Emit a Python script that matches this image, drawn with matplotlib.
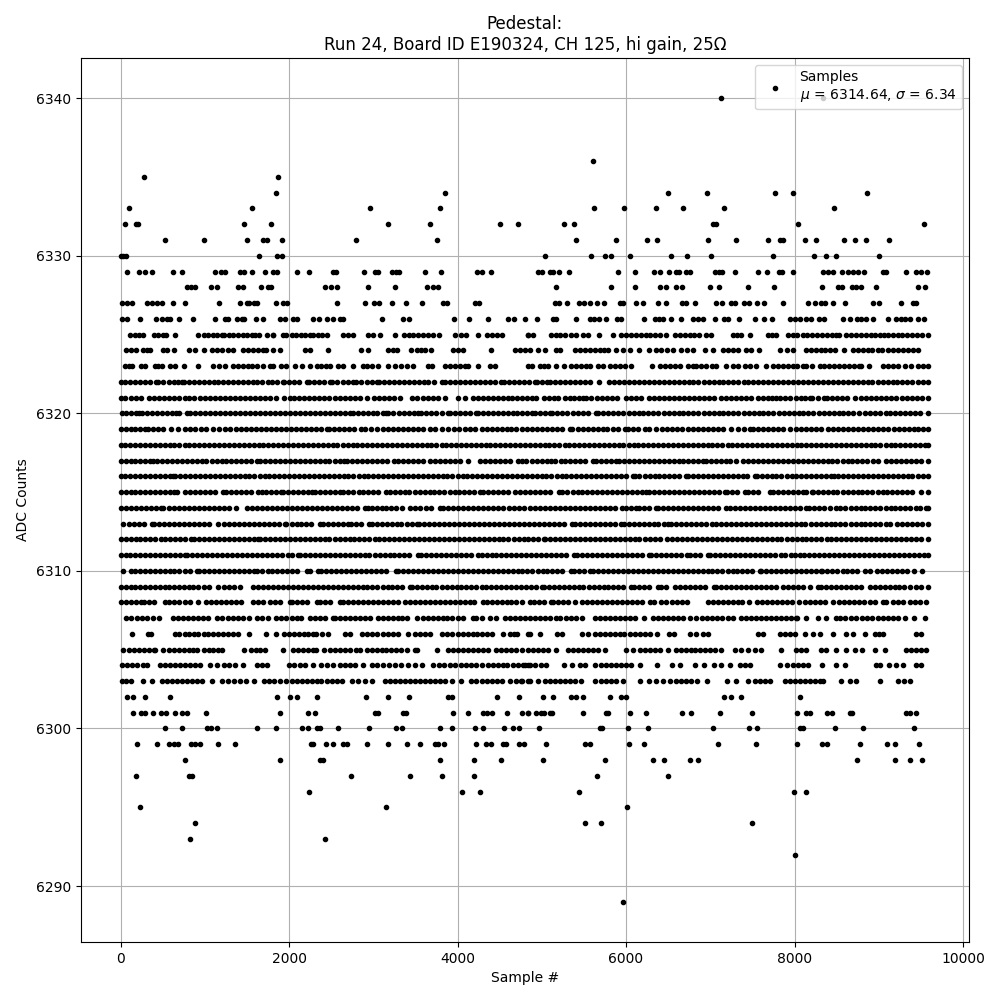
import numpy as np
import matplotlib.pyplot as plt

# sample numbers, one list per ADC level
adc_6340 = [7127, 8337]
adc_6336 = [5609]
adc_6335 = [283, 1872]
adc_6334 = [1849, 3854, 6499, 6961, 7768, 7981, 8859]
adc_6333 = [105, 1564, 2964, 3794, 5621, 5977, 6356, 6676, 7163, 8468]
adc_6332 = [57, 180, 212, 1469, 1789, 3177, 3675, 4506, 4719, 5265, 5384, 7032, 7064, 8041, 9535]
adc_6331 = [532, 994, 1505, 1686, 1734, 1920, 2798, 3760, 5407, 5882, 6249, 6368, 6973, 7305, 7685, 7831, 7863, 8124, 8254, 8586, 8717, 8847, 9120]
adc_6330 = [10, 32, 65, 1647, 1860, 1912, 5040, 5585, 5751, 5822, 6048, 6534, 6724, 7009, 7744, 8230, 8373, 8491, 9001]
adc_6329 = [73, 223, 295, 378, 627, 733, 1125, 1188, 1236, 1418, 1465, 1556, 1718, 1805, 1852, 2090, 2240, 2525, 2557, 2894, 3020, 3060, 3220, 3268, 3300, 3616, 3806, 4233, 4285, 4403,
            4956, 5008, 5095, 5134, 5210, 5324, 5905, 6107, 6332, 6400, 6510, 6597, 6629, 6716, 6756, 7052, 7100, 7143, 7293, 7566, 7673, 7815, 7847, 7981, 8337, 8396, 8456, 8563, 8634, 8693, 8752, 8824, 9049, 9088, 9322, 9436, 9504, 9571]
adc_6328 = [793, 832, 884, 1074, 1141, 1398, 1450, 1671, 1754, 1785, 2430, 2501, 2572, 2940, 3260, 3640, 3711, 3770,
            5170, 5822, 6107, 6400, 6471, 6589, 6665, 6997, 7100, 7447, 7756, 8325, 8515, 8566, 8681, 8733, 8792, 8970, 9464, 9543]
adc_6327 = [14, 73, 140, 310, 370, 429, 488, 619, 769, 1172, 1422, 1497, 1528, 1584, 1615, 1849, 1932, 1971, 2572, 2904, 3011, 3070, 3225, 3391, 3580, 3830, 3870, 4205, 4257,
            5154, 5205, 5300, 5443, 5498, 5573, 5656, 5739, 5925, 5965, 6119, 6206, 6380, 6479, 6665, 6716, 6819, 7072, 7135, 7250, 7289, 7396, 7459, 7550, 7637, 7863, 8159, 8242, 8317, 8357, 8456, 8602, 8930, 9001, 9258, 9405, 9444]
adc_6326 = [12, 73, 227, 417, 488, 547, 587, 698, 856, 1125, 1240, 1279, 1386, 1437, 1469, 1603, 1690, 1892, 1951, 2042, 2090, 2288, 2358, 2445, 2525, 2604, 2643, 3106, 3355, 3426, 3960, 4138, 4364, 4604, 4672, 4799,
            4945, 5134, 5174, 5407, 5569, 5617, 5680, 5767, 5894, 5937, 6214, 6348, 6392, 6439, 6534, 6653, 6795, 6854, 6914, 7056, 7159, 7210, 7345, 7534, 7637, 7732, 7942, 8001, 8068, 8140, 8199, 8290, 8345, 8574, 8653, 8740, 8792, 8851, 8930, 9108, 9207, 9266, 9306, 9374, 9464, 9531]
adc_6325 = [115, 170, 225, 272, 395, 445, 500, 545, 650, 925, 985, 1040, 1095, 1145, 1205, 1225, 1285, 1335, 1395, 1450, 1500, 1560, 1600, 1645, 1735, 1805, 1810, 1925, 1970, 2030, 2085, 2140, 2190, 2250, 2290, 2345, 2395, 2450, 2645, 2700, 2760, 2940, 3000, 3085, 3260, 3360, 3420, 3475, 3530, 3590, 3650, 3710, 3785, 3976, 4045, 4100, 4240, 4355, 4410, 4470, 4530, 4835,
            4838, 4897, 5115, 5170, 5220, 5273, 5352, 5411, 5490, 5550, 5676, 5846, 5945, 6000, 6060, 6115, 6175, 6235, 6290, 6345, 6400, 6479, 6578, 6635, 6695, 6755, 6810, 6870, 6955, 7012, 7269, 7320, 7368, 7467, 7685, 7735, 7783, 7922, 7980, 8035, 8095, 8150, 8210, 8270, 8325, 8385, 8440, 8495, 8527, 8614, 8670, 8730, 8790, 8845, 8905, 8960, 9020, 9068, 9108, 9165, 9225, 9280, 9340, 9400, 9455, 9515, 9583]
adc_6324 = [65, 120, 185, 270, 310, 350, 508, 547, 638, 817, 884, 995, 1090, 1150, 1208, 1279, 1330, 1457, 1515, 1575, 1635, 1695, 1725, 1813, 1892, 2188, 2248, 2465, 2860, 2940, 3177, 3235, 3284, 3442, 3514, 3565, 3612, 3680, 3950, 4010, 4067, 4403, 4680, 4740, 4799,
            4856, 4956, 5035, 5166, 5213, 5391, 5450, 5510, 5570, 5630, 5690, 5740, 5787, 5886, 5965, 6044, 6154, 6273, 6360, 6420, 6490, 6558, 6657, 6725, 6795, 6933, 7032, 7151, 7210, 7269, 7329, 7428, 7487, 7578, 7831, 7905, 7981, 8140, 8195, 8255, 8310, 8365, 8420, 8476, 8582, 8693, 8750, 8810, 8870, 8925, 8985, 9041, 9108, 9165, 9225, 9285, 9345, 9405, 9464]
adc_6323 = [55, 95, 135, 240, 290, 410, 450, 490, 587, 645, 757, 919, 1100, 1170, 1240, 1330, 1390, 1450, 1510, 1565, 1615, 1695, 1773, 1813, 1900, 1965, 2070, 2150, 2255, 2327, 2385, 2440, 2485, 2584, 2635, 2754, 2880, 2930, 2980, 3058, 3177, 3255, 3335, 3405, 3475, 3650, 3700, 3850, 3910, 3970, 4030, 4085, 4127, 4245, 4385, 4450, 4840,
            4890, 4976, 5030, 5075, 5174, 5261, 5352, 5410, 5470, 5525, 5569, 5668, 5727, 5807, 5865, 5925, 5985, 6063, 6309, 6400, 6460, 6520, 6580, 6637, 6736, 6795, 6835, 6895, 6955, 7015, 7072, 7190, 7269, 7329, 7408, 7467, 7538, 7665, 7744, 7800, 7860, 7920, 7980, 8035, 8095, 8140, 8210, 8298, 8355, 8415, 8470, 8530, 8590, 8650, 8705, 8760, 8792, 8879, 9049, 9110, 9170, 9230, 9306, 9385, 9464, 9520, 9580]
adc_6322 = [10, 55, 115, 170, 230, 290, 350, 420, 450, 510, 570, 630, 680, 725, 755, 815, 870, 930, 990, 1045, 1105, 1160, 1220, 1280, 1335, 1395, 1450, 1510, 1570, 1625, 1685, 1745, 1800, 1860, 1925, 1945, 2005, 2065, 2120, 2210, 2240, 2300, 2360, 2420, 2485, 2515, 2575, 2640, 2700, 2760, 2795, 2860, 2920, 2980, 3040, 3070, 3130, 3185, 3245, 3305, 3360, 3420, 3480, 3540, 3600, 3655, 3715, 3810, 3850, 3910, 3970, 4025, 4085, 4145, 4205, 4265, 4325, 4385, 4440, 4520, 4550, 4610, 4670, 4725, 4785, 4845, 4915, 4945, 5005, 5063, 5095, 5155, 5215, 5275, 5335, 5395, 5450, 5510, 5570, 5680,
            5799, 5860, 5920, 5980, 6035, 6095, 6150, 6210, 6270, 6330, 6390, 6450, 6505, 6565, 6625, 6685, 6745, 6800, 6860, 6920, 6980, 7040, 7100, 7155, 7215, 7275, 7335, 7395, 7450, 7510, 7570, 7630, 7690, 7745, 7805, 7865, 7925, 7985, 8040, 8100, 8160, 8220, 8280, 8335, 8395, 8455, 8515, 8575, 8630, 8690, 8750, 8810, 8870, 8925, 8985, 9045, 9105, 9165, 9220, 9280, 9340, 9400, 9460, 9520, 9583]
adc_6321 = [10, 55, 120, 180, 240, 340, 400, 460, 520, 580, 640, 700, 760, 815, 870, 940, 1000, 1060, 1120, 1180, 1240, 1300, 1360, 1420, 1480, 1535, 1595, 1655, 1715, 1775, 1850, 1940, 2010, 2060, 2120, 2180, 2240, 2300, 2360, 2420, 2480, 2545, 2600, 2665, 2725, 2785, 2840, 2920, 3010, 3070, 3130, 3190, 3250, 3320, 3465, 3525, 3585, 3645, 3705, 3765, 3850, 4000, 4090, 4185, 4245, 4305, 4365, 4420, 4480, 4540, 4600, 4650, 4710, 4770, 4830, 4890, 4935,
            5024, 5085, 5140, 5193, 5273, 5330, 5385, 5440, 5490, 5530, 5590, 5650, 5710, 5770, 5830, 5893, 5996, 6060, 6120, 6180, 6273, 6329, 6390, 6450, 6510, 6570, 6630, 6690, 6750, 6810, 6870, 6930, 6990, 7050, 7131, 7183, 7243, 7303, 7363, 7423, 7483, 7566, 7625, 7680, 7735, 7783, 7823, 7885, 7945, 8020, 8075, 8125, 8180, 8210, 8280, 8345, 8385, 8445, 8505, 8565, 8625, 8713, 8792, 8850, 8910, 8970, 9030, 9090, 9150, 9210, 9270, 9330, 9390, 9450, 9510, 9583]
adc_6320 = [15, 70, 130, 180, 225, 250, 310, 370, 430, 490, 550, 610, 660, 700, 795, 825, 885, 945, 1005, 1065, 1120, 1180, 1240, 1300, 1360, 1420, 1480, 1535, 1595, 1655, 1715, 1775, 1830, 1890, 1950, 2010, 2070, 2130, 2185, 2245, 2305, 2365, 2425, 2485, 2540, 2600, 2660, 2720, 2755, 2815, 2875, 2935, 2995, 3050, 3110, 3150, 3180, 3240, 3300, 3360, 3420, 3480, 3535, 3570, 3630, 3690, 3750, 3810, 3890, 3910, 3970, 4030, 4090, 4150, 4225, 4245, 4305, 4365, 4425, 4485, 4540, 4600, 4660, 4710, 4770, 4830, 4890,
            4920, 4980, 5040, 5095, 5126, 5185, 5245, 5305, 5365, 5425, 5485, 5545, 5640, 5668, 5730, 5790, 5850, 5910, 5970, 6030, 6090, 6150, 6205, 6265, 6325, 6385, 6445, 6505, 6565, 6625, 6680, 6740, 6800, 6860, 6920, 6980, 7040, 7100, 7155, 7215, 7275, 7335, 7395, 7455, 7515, 7575, 7630, 7690, 7750, 7810, 7870, 7930, 7990, 8050, 8105, 8165, 8225, 8285, 8345, 8405, 8465, 8525, 8580, 8640, 8700, 8760, 8840, 8900, 8960, 9020, 9080, 9135, 9195, 9255, 9315, 9375, 9435, 9495, 9583]
adc_6319 = [10, 60, 120, 175, 235, 290, 330, 390, 450, 510, 595, 680, 765, 825, 885, 960, 1015, 1100, 1170, 1240, 1305, 1370, 1430, 1490, 1550, 1610, 1670, 1725, 1785, 1845, 1905, 1965, 2025, 2085, 2140, 2200, 2260, 2320, 2380, 2445, 2475, 2535, 2595, 2655, 2715, 2775, 2860, 2900, 2975, 3040, 3115, 3175, 3235, 3295, 3355, 3415, 3475, 3535, 3595, 3670, 3730, 3820, 3890, 3955, 4020, 4085, 4145, 4205, 4285, 4345, 4405, 4465, 4525, 4585, 4640, 4700, 4760, 4820, 4880, 4940, 5000, 5060, 5120, 5175, 5235, 5330, 5364, 5425, 5485, 5545, 5605, 5665, 5725, 5780, 5840, 5900, 5985,
            6024, 6085, 6145, 6222, 6269, 6352, 6431, 6490, 6550, 6610, 6670, 6730, 6790, 6850, 6910, 6970, 7030, 7090, 7150, 7250, 7329, 7400, 7467, 7507, 7565, 7625, 7685, 7745, 7805, 7865, 7950, 8020, 8080, 8140, 8200, 8260, 8320, 8395, 8456, 8515, 8575, 8635, 8695, 8755, 8815, 8875, 8935, 8995, 9055, 9115, 9175, 9235, 9295, 9355, 9415, 9470, 9530, 9580]
adc_6318 = [10, 55, 115, 175, 230, 290, 350, 405, 465, 525, 585, 640, 700, 760, 815, 875, 935, 995, 1050, 1110, 1170, 1230, 1285, 1345, 1405, 1460, 1520, 1580, 1640, 1695, 1755, 1815, 1875, 1930, 1990, 2050, 2110, 2165, 2225, 2285, 2340, 2400, 2460, 2520, 2575, 2635, 2695, 2755, 2810, 2870, 2930, 2985, 3045, 3105, 3165, 3220, 3280, 3340, 3400, 3455, 3515, 3575, 3635, 3690, 3750, 3810, 3865, 3925, 3985, 4045, 4100, 4160, 4220, 4280, 4335, 4385, 4445, 4505, 4565, 4625, 4680, 4740, 4798,
            4857, 4915, 4975, 5035, 5090, 5150, 5210, 5270, 5325, 5385, 5445, 5500, 5560, 5620, 5680, 5735, 5795, 5855, 5915, 5970, 6030, 6090, 6145, 6205, 6265, 6325, 6380, 6440, 6500, 6560, 6615, 6675, 6735, 6790, 6850, 6910, 6970, 7025, 7085, 7145, 7205, 7260, 7320, 7380, 7435, 7495, 7555, 7615, 7670, 7730, 7790, 7850, 7905, 7965, 8025, 8080, 8140, 8200, 8260, 8315, 8375, 8435, 8495, 8550, 8610, 8670, 8725, 8785, 8845, 8905, 8960, 9020, 9080, 9140, 9195, 9255, 9315, 9370, 9430, 9490, 9550, 9585]
adc_6317 = [10, 60, 120, 175, 235, 295, 350, 390, 435, 495, 555, 610, 670, 730, 790, 845, 905, 965, 1020, 1080, 1140, 1200, 1255, 1315, 1375, 1435, 1490, 1550, 1615, 1660, 1720, 1780, 1835, 1895, 1955, 2015, 2070, 2130, 2190, 2250, 2305, 2365, 2425, 2480, 2540, 2600, 2650, 2690, 2750, 2810, 2870, 2930, 2985, 3045, 3105, 3165, 3245, 3295, 3355, 3415, 3475, 3535, 3595, 3670, 3730, 3790, 3850, 3910, 3970, 4030, 4125, 4265, 4325, 4385, 4445, 4500, 4560, 4620, 4720, 4760, 4818, 4880, 4940, 5000, 5060, 5115, 5154, 5233, 5273, 5335, 5395, 5455, 5515, 5609, 5648, 5705, 5765, 5825, 5886,
            5917, 5975, 6035, 6095, 6155, 6215, 6270, 6330, 6390, 6450, 6510, 6570, 6629, 6676, 6735, 6795, 6855, 6915, 6953, 7012, 7070, 7130, 7190, 7230, 7310, 7388, 7445, 7505, 7565, 7625, 7685, 7740, 7800, 7860, 7920, 7980, 8040, 8095, 8155, 8215, 8275, 8335, 8395, 8450, 8510, 8570, 8634, 8685, 8745, 8805, 8865, 8930, 8990, 9088, 9145, 9205, 9265, 9325, 9385, 9440, 9500, 9580]
adc_6316 = [10, 55, 115, 175, 235, 290, 350, 410, 470, 530, 590, 620, 650, 710, 770, 825, 885, 945, 1005, 1060, 1120, 1180, 1240, 1295, 1355, 1415, 1475, 1530, 1590, 1650, 1710, 1765, 1825, 1885, 1945, 2000, 2060, 2120, 2180, 2235, 2295, 2355, 2415, 2470, 2530, 2590, 2650, 2705, 2765, 2825, 2885, 2940, 3000, 3060, 3120, 3175, 3235, 3295, 3355, 3410, 3470, 3530, 3590, 3645, 3705, 3765, 3825, 3880, 3940, 4000, 4060, 4115, 4175, 4235, 4295, 4350, 4410, 4470, 4530, 4585, 4645, 4705, 4765, 4820, 4880, 4940, 5000, 5055, 5115, 5175, 5235, 5290, 5350, 5410, 5470, 5525, 5585, 5645, 5705, 5760, 5820, 5880, 5940, 5995, 6083,
            6103, 6160, 6220, 6280, 6340, 6395, 6455, 6515, 6575, 6630, 6716, 6736, 6795, 6855, 6915, 6970, 7030, 7090, 7150, 7205, 7265, 7325, 7385, 7440, 7527, 7554, 7610, 7670, 7730, 7785, 7845, 7905, 7965, 8020, 8080, 8140, 8200, 8255, 8315, 8375, 8436, 8464, 8520, 8580, 8640, 8695, 8755, 8815, 8875, 8930, 8990, 9050, 9110, 9165, 9225, 9285, 9345, 9400, 9460, 9520, 9585]
adc_6315 = [10, 60, 120, 175, 235, 295, 355, 410, 470, 530, 590, 635, 675, 765, 825, 885, 940, 1000, 1060, 1120, 1220, 1250, 1310, 1370, 1430, 1490, 1545, 1635, 1675, 1725, 1790, 1850, 1900, 1930, 1990, 2050, 2105, 2165, 2225, 2270, 2305, 2365, 2425, 2485, 2545, 2605, 2645, 2705, 2765, 2825, 2880, 2940, 3000, 3060, 3155, 3195, 3255, 3315, 3375, 3430, 3490, 3550, 3610, 3670, 3725, 3785, 3845, 3905, 3965, 4020, 4080, 4140, 4200, 4265, 4305, 4365, 4425, 4485, 4540, 4600, 4680, 4745, 4800, 4860, 4920, 4980, 5040, 5095, 5205,
            5245, 5305, 5365, 5425, 5480, 5540, 5600, 5660, 5720, 5775, 5835, 5895, 5955, 6015, 6075, 6130, 6190, 6241, 6273, 6330, 6390, 6450, 6510, 6570, 6625, 6685, 6745, 6805, 6865, 6920, 6980, 7040, 7100, 7170, 7198, 7255, 7315, 7408, 7447, 7505, 7565, 7705, 7744, 7800, 7860, 7920, 7980, 8040, 8100, 8131, 8210, 8218, 8275, 8335, 8395, 8455, 8510, 8570, 8630, 8690, 8750, 8805, 8865, 8925, 8985, 9045, 9100, 9160, 9220, 9280, 9340, 9395, 9503, 9583]
adc_6314 = [10, 60, 120, 180, 240, 300, 360, 420, 475, 510, 570, 630, 690, 750, 810, 870, 930, 985, 1045, 1105, 1165, 1225, 1285, 1370, 1505, 1565, 1625, 1680, 1740, 1800, 1860, 1920, 1980, 2040, 2095, 2155, 2215, 2275, 2335, 2395, 2455, 2510, 2570, 2630, 2690, 2750, 2810, 2900, 2940, 2980, 3040, 3100, 3155, 3215, 3275, 3345, 3440, 3500, 3560, 3620, 3680, 3790, 3830, 3890, 3950, 4010, 4070, 4130, 4185, 4245, 4305, 4365, 4425, 4485, 4540, 4610, 4670, 4730, 4790, 4860, 4920, 4980, 5040, 5100, 5160, 5215, 5275, 5335, 5395, 5455, 5515, 5570, 5630, 5690, 5750, 5810, 5870, 5957,
            6004, 6060, 6123, 6154, 6215, 6275, 6360, 6380, 6440, 6500, 6560, 6620, 6680, 6735, 6795, 6855, 6915, 6975, 7035, 7095, 7190, 7230, 7290, 7350, 7410, 7470, 7530, 7585, 7645, 7705, 7765, 7825, 7885, 7945, 8000, 8060, 8140, 8171, 8230, 8290, 8350, 8424, 8487, 8545, 8605, 8665, 8725, 8785, 8840, 8900, 8960, 9020, 9080, 9140, 9195, 9255, 9315, 9365, 9436, 9495, 9555, 9585]
adc_6313 = [35, 95, 155, 215, 275, 370, 400, 460, 520, 580, 640, 695, 755, 815, 875, 935, 995, 1050, 1160, 1230, 1290, 1350, 1410, 1470, 1530, 1585, 1645, 1705, 1765, 1825, 1885, 1950, 1970, 2030, 2090, 2145, 2205, 2265, 2365, 2400, 2460, 2520, 2580, 2640, 2700, 2740, 2800, 2860, 2950, 2980, 3040, 3100, 3160, 3220, 3280, 3335, 3395, 3455, 3515, 3545, 3605, 3665, 3725, 3785, 3840, 3900, 3960, 4020, 4080, 4140, 4195, 4255, 4315, 4375, 4435, 4495, 4550, 4610, 4670, 4730, 4790, 4850, 4905, 4965, 5025, 5085, 5145, 5205, 5260, 5360,
            5391, 5450, 5510, 5570, 5630, 5690, 5750, 5805, 5865, 5945, 5973, 6030, 6090, 6150, 6210, 6270, 6330, 6385, 6445, 6498, 6538, 6595, 6655, 6715, 6775, 6835, 6890, 6950, 7024, 7064, 7125, 7185, 7245, 7305, 7360, 7420, 7480, 7540, 7600, 7660, 7720, 7775, 7835, 7895, 7955, 8015, 8075, 8130, 8190, 8250, 8310, 8370, 8430, 8485, 8545, 8605, 8665, 8725, 8785, 8840, 8900, 8960, 9020, 9080, 9136, 9215, 9275, 9335, 9395, 9450, 9510, 9583]
adc_6312 = [10, 60, 120, 180, 235, 295, 355, 415, 475, 530, 590, 650, 710, 770, 835, 875, 935, 995, 1050, 1110, 1170, 1230, 1290, 1345, 1405, 1465, 1525, 1585, 1635, 1655, 1715, 1775, 1835, 1890, 1950, 2010, 2070, 2130, 2185, 2245, 2305, 2365, 2425, 2480, 2540, 2600, 2660, 2720, 2775, 2835, 2895, 2955, 3015, 3070, 3130, 3190, 3250, 3310, 3365, 3425, 3485, 3545, 3605, 3660, 3720, 3780, 3840, 3900, 3955, 4015, 4075, 4135, 4195, 4250, 4310, 4370, 4430, 4490, 4545, 4605, 4665, 4725, 4785, 4840, 4900, 4960, 5024, 5040, 5100, 5160, 5220, 5275, 5335, 5395, 5455, 5515, 5570, 5630, 5690, 5750, 5810, 5865, 5925, 5985, 6045, 6105, 6160, 6220, 6280, 6340, 6400, 6487,
            6550, 6610, 6665, 6725, 6785, 6845, 6905, 6960, 7020, 7080, 7140, 7200, 7255, 7315, 7375, 7435, 7495, 7550, 7610, 7670, 7730, 7790, 7845, 7905, 7965, 8025, 8085, 8140, 8200, 8260, 8320, 8380, 8435, 8495, 8555, 8615, 8675, 8730, 8790, 8850, 8910, 8970, 9025, 9085, 9145, 9205, 9265, 9320, 9380, 9440, 9500, 9585]
adc_6311 = [10, 60, 115, 175, 235, 295, 350, 410, 470, 530, 585, 645, 705, 765, 790, 850, 910, 970, 1030, 1090, 1145, 1205, 1265, 1325, 1385, 1440, 1500, 1560, 1620, 1680, 1735, 1795, 1855, 1915, 1990, 2030, 2110, 2130, 2190, 2250, 2310, 2365, 2425, 2485, 2545, 2605, 2660, 2720, 2780, 2840, 2900, 2955, 3015, 3075, 3135, 3195, 3250, 3310, 3370, 3430, 3535, 3565, 3625, 3685, 3745, 3800, 3860, 3920, 3980, 4040, 4095, 4155, 4245, 4285, 4345, 4405, 4460, 4520, 4580, 4640, 4700, 4755, 4815, 4875, 4935, 4990, 5050, 5110, 5170, 5230, 5285, 5380,
            5419, 5480, 5540, 5600, 5655, 5715, 5775, 5835, 5895, 5950, 6010, 6070, 6130, 6190, 6273, 6300, 6360, 6420, 6480, 6535, 6595, 6655, 6724, 6755, 6815, 6875, 6973, 7000, 7060, 7120, 7175, 7235, 7295, 7355, 7415, 7470, 7530, 7590, 7650, 7710, 7765, 7843, 7882, 7960, 8000, 8060, 8115, 8175, 8235, 8295, 8355, 8410, 8470, 8530, 8590, 8650, 8705, 8765, 8825, 8885, 8945, 9000, 9060, 9120, 9180, 9240, 9295, 9355, 9415, 9475, 9535, 9585]
adc_6310 = [25, 120, 170, 230, 290, 345, 405, 465, 525, 585, 640, 700, 760, 820, 905, 935, 995, 1055, 1110, 1170, 1230, 1290, 1350, 1405, 1465, 1525, 1585, 1625, 1685, 1745, 1800, 1860, 1920, 1980, 2040, 2095, 2210, 2250, 2345, 2380, 2440, 2500, 2560, 2620, 2675, 2735, 2795, 2855, 2915, 2970, 3030, 3090, 3150, 3270, 3295, 3355, 3415, 3475, 3535, 3590, 3650, 3710, 3770, 3830, 3885, 3945, 4005, 4065, 4125, 4180, 4240, 4300, 4360, 4420, 4475, 4535, 4595, 4655, 4715, 4770, 4830, 4890, 4950, 5010, 5065, 5125, 5185, 5245, 5352, 5380, 5440, 5500, 5577,
            5609, 5670, 5730, 5790, 5845, 5905, 5965, 6025, 6085, 6140, 6200, 6260, 6320, 6380, 6435, 6495, 6555, 6615, 6675, 6730, 6790, 6850, 6910, 6970, 7025, 7085, 7145, 7205, 7265, 7320, 7380, 7440, 7500, 7586, 7606, 7665, 7725, 7785, 7840, 7900, 7960, 8020, 8080, 8135, 8195, 8255, 8317, 8330, 8390, 8450, 8510, 8570, 8625, 8685, 8745, 8831, 8891, 8978, 9035, 9095, 9155, 9215, 9275, 9330, 9424, 9515]
adc_6309 = [10, 60, 120, 175, 235, 295, 355, 415, 470, 530, 570, 630, 690, 750, 810, 865, 925, 985, 1045, 1160, 1225, 1285, 1345, 1415, 1575, 1635, 1695, 1750, 1810, 1870, 1930, 1990, 2045, 2105, 2165, 2225, 2285, 2340, 2400, 2460, 2520, 2580, 2635, 2695, 2755, 2815, 2875, 2930, 2990, 3050, 3110, 3170, 3225, 3285, 3345, 3435, 3455, 3515, 3575, 3635, 3695, 3750, 3810, 3870, 3930, 3990, 4045, 4105, 4165, 4225, 4285, 4340, 4400, 4460, 4520, 4580, 4635, 4695, 4755, 4815, 4875, 4930, 5008, 5024, 5085, 5145, 5200, 5260, 5320, 5380, 5440, 5495, 5555, 5615, 5675, 5735, 5790, 5850, 5910, 5970, 6063,
            6091, 6150, 6210, 6270, 6380, 6420, 6480, 6585, 6637, 6695, 6755, 6815, 6875, 6935, 7040, 7072, 7130, 7190, 7250, 7310, 7365, 7425, 7485, 7545, 7605, 7660, 7720, 7780, 7862, 7922, 7980, 8040, 8100, 8180, 8278, 8317, 8375, 8435, 8495, 8555, 8610, 8670, 8730, 8790, 8890, 8950, 9010, 9070, 9130, 9190, 9245, 9305, 9365, 9444, 9505, 9585]
adc_6308 = [10, 60, 120, 180, 240, 280, 340, 400, 530, 580, 640, 700, 760, 820, 925, 1015, 1075, 1135, 1195, 1255, 1310, 1370, 1435, 1570, 1630, 1695, 1775, 1835, 1895, 2010, 2040, 2100, 2160, 2215, 2330, 2365, 2425, 2485, 2610, 2640, 2700, 2760, 2815, 2875, 2935, 2995, 3055, 3110, 3170, 3230, 3295, 3375, 3435, 3495, 3555, 3610, 3670, 3730, 3790, 3850, 3905, 3965, 4025, 4085, 4145, 4200, 4305, 4345, 4405, 4465, 4525, 4585, 4640, 4700, 4760, 4860, 4910, 4970, 5030, 5115, 5134, 5190, 5250, 5312, 5391,
            5482, 5540, 5600, 5660, 5720, 5775, 5835, 5895, 5955, 6015, 6070, 6130, 6190, 6281, 6329, 6420, 6480, 6540, 6600, 6660, 6724, 6973, 7035, 7092, 7151, 7210, 7265, 7325, 7380, 7459, 7554, 7615, 7675, 7730, 7790, 7850, 7910, 7970, 8052, 8120, 8180, 8240, 8300, 8360, 8456, 8527, 8590, 8650, 8710, 8770, 8830, 8890, 8950, 9049, 9088, 9167, 9225, 9286, 9365, 9430, 9490, 9563]
adc_6307 = [65, 130, 200, 250, 310, 380, 460, 625, 685, 745, 805, 860, 920, 980, 1040, 1150, 1210, 1270, 1330, 1390, 1455, 1525, 1625, 1685, 1745, 1850, 1910, 1970, 2030, 2090, 2145, 2255, 2305, 2365, 2425, 2525, 2545, 2605, 2665, 2725, 2780, 2840, 2900, 2960, 3060, 3110, 3170, 3230, 3290, 3345, 3405, 3520, 3585, 3645, 3705, 3765, 3825, 3880, 3940, 4000, 4060, 4185, 4225, 4290, 4390, 4460, 4560, 4620, 4680, 4740, 4800, 4860, 4920, 4980, 5040, 5100, 5174,
            5221, 5285, 5345, 5405, 5482, 5629, 5690, 5750, 5810, 5870, 5930, 5990, 6050, 6110, 6210, 6320, 6380, 6440, 6500, 6560, 6620, 6680, 6755, 6830, 6906, 6965, 7025, 7085, 7145, 7205, 7270, 7368, 7425, 7485, 7545, 7605, 7660, 7720, 7780, 7840, 7900, 7960, 8020, 8030, 8131, 8278, 8376, 8487, 8545, 8605, 8665, 8733, 8804, 8865, 8925, 8985, 9045, 9105, 9165, 9227, 9306, 9424, 9550]
adc_6306 = [140, 322, 362, 645, 700, 760, 815, 870, 925, 985, 1040, 1100, 1160, 1215, 1275, 1335, 1400, 1527, 1722, 1840, 1943, 2000, 2060, 2115, 2175, 2230, 2285, 2325, 2395, 2465, 2660, 2720, 2872, 2930, 2990, 3050, 3110, 3170, 3230, 3295, 3415, 3495, 3555, 3610, 3670, 3810, 3870, 3930, 4005, 4060, 4120, 4180, 4235, 4295, 4345, 4415, 4540, 4620, 4665, 4710, 4840,
            4858, 4984, 5182, 5245, 5482, 5550, 5629, 5690, 5750, 5810, 5865, 5925, 5973, 6044, 6105, 6165, 6225, 6281, 6372, 6506, 6566, 6763, 6835, 6914, 6973, 7566, 7625, 7823, 7885, 7945, 8000, 8120, 8218, 8298, 8456, 8614, 8693, 8831, 8950, 9000, 9049, 9444, 9504]
adc_6305 = [25, 100, 160, 220, 280, 340, 395, 415, 510, 570, 630, 690, 750, 810, 865, 905, 985, 1045, 1100, 1160, 1210, 1465, 1545, 1605, 1660, 1715, 1930, 2050, 2110, 2170, 2225, 2285, 2325, 2415, 2485, 2545, 2605, 2660, 2720, 2795, 2840, 2920, 2980, 3040, 3100, 3155, 3215, 3275, 3335, 3395, 3495, 3525, 3760, 3890, 3950, 4010, 4070, 4130, 4185, 4245, 4305, 4365, 4460, 4520, 4580, 4640, 4700, 4760, 4840,
            4895, 4955, 5015, 5075, 5174, 5312, 5370, 5430, 5490, 5550, 5610, 5670, 5747, 5996, 6083, 6162, 6220, 6280, 6340, 6400, 6498, 6590, 6650, 6710, 6775, 6815, 6875, 6935, 6995, 7052, 7131, 7289, 7368, 7447, 7526, 7606, 7843, 8020, 8080, 8140, 8317, 8376, 8495, 8614, 8713, 8800, 8958, 9076, 9326, 9385, 9445, 9505, 9563]
adc_6304 = [14, 75, 135, 200, 270, 310, 470, 530, 590, 650, 710, 770, 830, 885, 945, 1060, 1150, 1230, 1290, 1360, 1450, 1615, 1675, 1735, 2005, 2065, 2125, 2185, 2290, 2385, 2445, 2525, 2605, 2665, 2725, 2785, 2880, 2980, 3050, 3120, 3190, 3260, 3335, 3415, 3495, 3575, 3710, 3775, 3840, 3905, 3970, 4045, 4105, 4165, 4225, 4285, 4365, 4425, 4480, 4535, 4590, 4660, 4720, 4780, 4840,
            4798, 4860, 4925, 4990, 5055, 5261, 5355, 5450, 5510, 5629, 5700, 5760, 5820, 5880, 5940, 6000, 6060, 6162, 6368, 6550, 6645, 6815, 6922, 7044, 7131, 7238, 7349, 7410, 7475, 7831, 7910, 7981, 8040, 8100, 8160, 8325, 8495, 8602, 8970, 9017, 9120, 9207, 9286, 9444, 9504]
adc_6303 = [15, 70, 120, 270, 370, 490, 550, 610, 670, 730, 790, 850, 905, 970, 1080, 1200, 1280, 1350, 1420, 1495, 1590, 1700, 1760, 1825, 1890, 1970, 2030, 2090, 2150, 2210, 2270, 2330, 2385, 2445, 2505, 2565, 2625, 2745, 2820, 2900, 2980, 3140, 3200, 3260, 3320, 3380, 3440, 3495, 3555, 3615, 3675, 3735, 3795, 3855, 3935, 4045, 4165, 4225, 4285, 4345, 4405, 4465, 4525, 4620, 4700, 4770, 4840,
            4759, 4860, 4956, 5035, 5095, 5155, 5215, 5275, 5335, 5395, 5470, 5629, 5700, 5760, 5820, 5885, 5965, 6162, 6273, 6350, 6440, 6518, 6590, 6650, 6710, 6775, 6842, 6961, 7198, 7310, 7447, 7526, 7590, 7650, 7705, 7882, 7945, 8005, 8065, 8125, 8185, 8238, 8298, 8337, 8547, 8661, 8733, 9009, 9227, 9300, 9365]
adc_6302 = [73, 152, 295, 591, 1860, 2014, 2097, 2335, 2916, 3177, 3426, 3890, 3930, 4470, 4731, 5016, 5134, 5352, 5411, 5490, 5811, 5945, 5996, 7163, 7246, 7364, 8064]
adc_6301 = [152, 240, 295, 390, 480, 535, 650, 735, 790, 1018, 1888, 2220, 2307, 3020, 3060, 3350, 3390, 3950, 4127, 4297, 4345, 4405, 4590, 4760, 4840,
            4838, 4929, 4996, 5024, 5095, 5126, 5490, 5759, 5787, 6048, 6238, 6665, 6771, 7115, 7495, 8029, 8140, 8179, 8385, 8448, 8653, 8685, 9318, 9374, 9444]
adc_6300 = [532, 733, 1030, 1070, 1149, 1623, 1849, 2157, 2228, 2327, 2367, 2584, 2952, 3272, 3343, 3794, 3936, 4213, 4304, 4553, 4660, 4731, 4968, 5688, 5720, 6024, 6261, 7032, 7459, 7554, 8060, 8100, 8479, 8812, 9417]
adc_6299 = [192, 429, 579, 635, 686, 832, 884, 943, 1160, 1362, 2256, 2288, 2434, 2517, 2643, 2691, 2928, 3177, 3395, 3557, 3731, 3771, 3838, 4225, 4344, 4403, 4541, 4581, 4731, 4786,
            5051, 5514, 5577, 6036, 6214, 7092, 7542, 8029, 8325, 8385, 8776, 9096, 9195, 9476]
adc_6298 = [769, 1896, 2367, 2406, 3794, 4197, 4517, 5016, 5751, 6321, 6451, 6760, 6854, 8740, 9191, 9369, 9512]
adc_6297 = [180, 816, 844, 2738, 3438, 3818, 4197, 5656, 6499]
adc_6296 = [2240, 4055, 4268, 5443, 7993, 8135]
adc_6295 = [235, 3153, 6012]
adc_6294 = [888, 5514, 5704, 7495]
adc_6293 = [828, 2430]
adc_6292 = [8005]
adc_6289 = [5965]

levels = [6340, 6336, 6335, 6334, 6333, 6332, 6331, 6330, 6329, 6328, 6327, 6326, 6325, 6324, 6323, 6322, 6321, 6320,
          6319, 6318, 6317, 6316, 6315, 6314, 6313, 6312, 6311, 6310, 6309, 6308, 6307, 6306, 6305, 6304, 6303, 6302, 6301,
          6300, 6299, 6298, 6297, 6296, 6295, 6294, 6293, 6292, 6289]
samples = [adc_6340, adc_6336, adc_6335, adc_6334, adc_6333, adc_6332, adc_6331, adc_6330, adc_6329, adc_6328, adc_6327, adc_6326, adc_6325, adc_6324, adc_6323, adc_6322, adc_6321, adc_6320,
           adc_6319, adc_6318, adc_6317, adc_6316, adc_6315, adc_6314, adc_6313, adc_6312, adc_6311, adc_6310, adc_6309, adc_6308, adc_6307, adc_6306, adc_6305, adc_6304, adc_6303, adc_6302, adc_6301,
           adc_6300, adc_6299, adc_6298, adc_6297, adc_6296, adc_6295, adc_6294, adc_6293, adc_6292, adc_6289]

x = np.concatenate(samples)
y = np.concatenate([[lev] * len(s) for lev, s in zip(levels, samples)])

plt.figure(figsize=(10, 10))
plt.plot(x, y, "k.", label="Samples\n$\\mu$ = 6314.64, $\\sigma$ = 6.34")
plt.xlim(-469, 10071)
plt.title("Pedestal:\nRun 24, Board ID E190324, CH 125, hi gain, 25Ω")
plt.xlabel("Sample #")
plt.ylabel("ADC Counts")
plt.legend(loc="upper right")
plt.grid()
plt.subplots_adjust(left=0.081, right=0.969, bottom=0.058, top=0.942)
plt.savefig("out.png", dpi=100)
